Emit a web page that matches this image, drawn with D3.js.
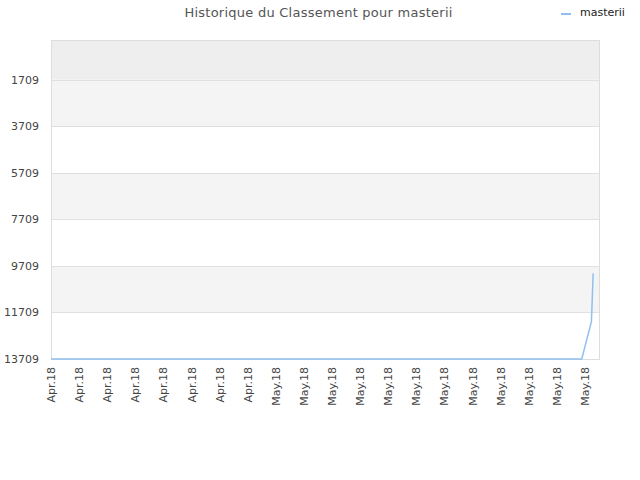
<!DOCTYPE html>
<html>
<head>
<meta charset="utf-8">
<script src="https://cdn.jsdelivr.net/npm/d3@7"></script>
<style>
  body { margin: 0; background: #fff; }
  text { font-family: "DejaVu Sans", sans-serif; }
</style>
</head>
<body>
<script>
const width = 640, height = 480;
const margin = {top: 40, right: 40, bottom: 121, left: 51};

const title = "Historique du Classement pour masterii";
const seriesName = "masterii";

// rank history (lower is better)
const dates = [
  "2018-04-16T00:00", "2018-04-20T00:00", "2018-04-25T00:00", "2018-04-30T00:00",
  "2018-05-05T00:00", "2018-05-10T00:00", "2018-05-15T00:00", "2018-05-20T00:00",
  "2018-05-23T18:30", "2018-05-24T11:00", "2018-05-24T12:30", "2018-05-24T14:00"
];
const ranks = [13709, 13709, 13709, 13709, 13709, 13709, 13709, 13709, 13709, 12106, 11088, 10026];

const yTicks = [1709, 3709, 5709, 7709, 9709, 11709, 13709];
const xTickDates = [
  "2018-04-16", "2018-04-18", "2018-04-20", "2018-04-22", "2018-04-24", "2018-04-26", "2018-04-28", "2018-04-30",
  "2018-05-02", "2018-05-04", "2018-05-06", "2018-05-08", "2018-05-10", "2018-05-12", "2018-05-14", "2018-05-16",
  "2018-05-18", "2018-05-20", "2018-05-22", "2018-05-24"
];
const xDomain = ["2018-04-16T00:00", "2018-05-25T01:40"];

const parse = d3.timeParse("%Y-%m-%dT%H:%M");
const parseDay = d3.timeParse("%Y-%m-%d");
const data = dates.map((d, i) => ({date: parse(d), rank: ranks[i]}));

const svg = d3.select("body").append("svg").attr("width", width).attr("height", height);

const x = d3.scaleTime()
  .domain(xDomain.map(parse))
  .range([margin.left, width - margin.right]);
const y = d3.scaleLinear()
  .domain([0, 13709])
  .range([margin.top, height - margin.bottom]);

// alternating bands
const bands = d3.pairs([0].concat(yTicks));
svg.selectAll("rect.band")
  .data(bands)
  .enter().append("rect")
  .attr("class", "band")
  .attr("x", margin.left)
  .attr("width", width - margin.right - margin.left)
  .attr("y", d => y(d[0]))
  .attr("height", d => y(d[1]) - y(d[0]))
  .attr("fill", (d, i) => i === 0 ? "#eeeeee" : (i % 2 === 1 ? "#f4f4f4" : "#ffffff"));

// grid lines
svg.selectAll("line.grid")
  .data(yTicks)
  .enter().append("line")
  .attr("class", "grid")
  .attr("x1", margin.left)
  .attr("x2", width - margin.right)
  .attr("y1", d => Math.round(y(d)) + 0.5)
  .attr("y2", d => Math.round(y(d)) + 0.5)
  .attr("stroke", "#e0e0e0");

// plot border
svg.append("rect")
  .attr("x", margin.left + 0.5)
  .attr("y", margin.top + 0.5)
  .attr("width", width - margin.right - margin.left - 1)
  .attr("height", height - margin.bottom - margin.top)
  .attr("fill", "none")
  .attr("stroke", "#dddddd");

// y labels
svg.selectAll("text.ylab")
  .data(yTicks)
  .enter().append("text")
  .attr("class", "ylab")
  .attr("x", margin.left - 12)
  .attr("y", d => y(d) + 4)
  .attr("text-anchor", "end")
  .attr("font-size", 11)
  .attr("fill", "#444")
  .text(d => d);

// x labels
const fmt = d3.timeFormat("%b.%y");
svg.selectAll("text.xlab")
  .data(xTickDates.map(parseDay))
  .enter().append("text")
  .attr("class", "xlab")
  .attr("transform", d => `translate(${x(d) + 4}, ${height - margin.bottom + 8}) rotate(-90)`)
  .attr("text-anchor", "end")
  .attr("font-size", 11)
  .attr("fill", "#444")
  .text(fmt);

// line
const line = d3.line().x(d => x(d.date)).y(d => y(d.rank));
svg.append("path")
  .datum(data)
  .attr("d", line)
  .attr("fill", "none")
  .attr("stroke", "#90c0f0")
  .attr("stroke-width", 1.5);

// title
svg.append("text")
  .attr("x", 318.5)
  .attr("y", 17)
  .attr("text-anchor", "middle")
  .attr("font-size", 13)
  .attr("letter-spacing", 0.25)
  .attr("fill", "#555")
  .text(title);

// legend
svg.append("line")
  .attr("x1", 561).attr("x2", 571)
  .attr("y1", 14).attr("y2", 14)
  .attr("stroke", "#90c0f0")
  .attr("stroke-width", 2);
svg.append("text")
  .attr("x", 580)
  .attr("y", 16)
  .attr("font-size", 11)
  .attr("fill", "#222")
  .text(seriesName);
</script>
</body>
</html>
